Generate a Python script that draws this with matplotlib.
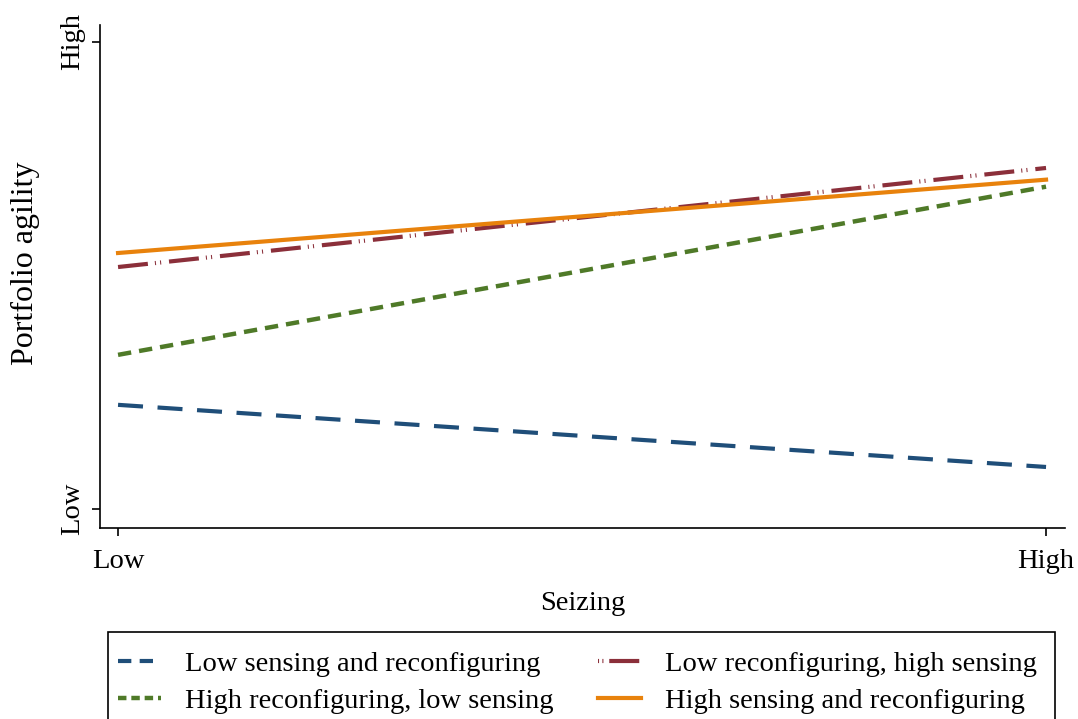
import matplotlib
matplotlib.use("Agg")
import matplotlib.pyplot as plt
from matplotlib.lines import Line2D
from matplotlib.patches import Rectangle

plt.rcParams["font.family"] = "Liberation Serif"

# Predicted portfolio agility at low / high seizing (scaled 0 = Low, 1 = High)
seizing = [0, 1]
low_sense_low_reconf = [0.223, 0.090]
high_reconf_low_sense = [0.330, 0.690]
low_reconf_high_sense = [0.518, 0.730]
high_sense_high_reconf = [0.548, 0.705]

labels = ["Low sensing and reconfiguring",
          "Low reconfiguring, high sensing",
          "High reconfiguring, low sensing",
          "High sensing and reconfiguring"]

tick_pos = [0, 1]
tick_labels = ["Low", "High"]

c_blue, c_green, c_red, c_orange = "#1f4e79", "#4f7a28", "#8b2f3a", "#e8820c"

W, H = 1078, 719
fig = plt.figure(figsize=(W / 100, H / 100), dpi=100)
ax = fig.add_axes([0.0928, 0.2656, 0.8952, 0.6996])

ax.plot(seizing, low_sense_low_reconf, color=c_blue, lw=3.0, dashes=(6, 3.5))
ax.plot(seizing, high_reconf_low_sense, color=c_green, lw=3.2, dashes=(3, 1.8))
ax.plot(seizing, low_reconf_high_sense, color=c_red, lw=3.0,
        dashes=(7.2, 1.7, 0.25, 1.0, 0.25, 1.9))
ax.plot(seizing, high_sense_high_reconf, color=c_orange, lw=3.0)

ax.set_xlim(-0.0194, 1.0205)
ax.set_ylim(-0.0407, 1.036)
ax.set_xticks(tick_pos)
ax.set_xticklabels(tick_labels)
ax.set_yticks(tick_pos)
ax.set_yticklabels(tick_labels, rotation=90, va="center")
ax.tick_params(labelsize=20.5, length=6, width=1.2)
ax.tick_params(axis="x", pad=9)
ax.tick_params(axis="y", pad=5)
ax.spines["top"].set_visible(False)
ax.spines["right"].set_visible(False)
for s in ("left", "bottom"):
    ax.spines[s].set_linewidth(1.2)

ax.set_xlabel("Seizing", fontsize=20.5, labelpad=12)
ax.set_ylabel("Portfolio agility", fontsize=23)
ax.yaxis.set_label_coords(-0.062, 0.527)

# legend keys with shorter dash patterns so each key shows a full cycle
keys = [
    Line2D([], [], color=c_blue, lw=3.0, dashes=(3.2, 2.0)),
    Line2D([], [], color=c_green, lw=3.2, dashes=(1.9, 1.1)),
    Line2D([], [], color=c_red, lw=3.0, dashes=(0.25, 0.8, 0.25, 1.4, 7.2, 1.7)),
    Line2D([], [], color=c_orange, lw=3.0),
]

# legend box drawn separately; it runs off the bottom of the figure
box_left, box_top, box_right = 108, 632, 1055
fig.patches.append(Rectangle((box_left / W, -0.1), (box_right - box_left) / W,
                             (1 - box_top / H) + 0.1, transform=fig.transFigure,
                             fill=False, edgecolor="black", lw=1.2))

# legend fills column-wise, so order the keys to read across rows
fig.legend([keys[0], keys[1], keys[2], keys[3]],
           [labels[0], labels[2], labels[1], labels[3]],
           ncol=2, loc="upper left",
           bbox_to_anchor=(box_left / W, 1 - (box_top + 9) / H,
                           (box_right - box_left - 8) / W, 0.0),
           mode="expand", fontsize=20.5, frameon=False,
           handlelength=1.5, handletextpad=0.85,
           borderpad=0.35, borderaxespad=0.0,
           labelspacing=0.38, columnspacing=1.5)

fig.savefig("out.png", dpi=100)
